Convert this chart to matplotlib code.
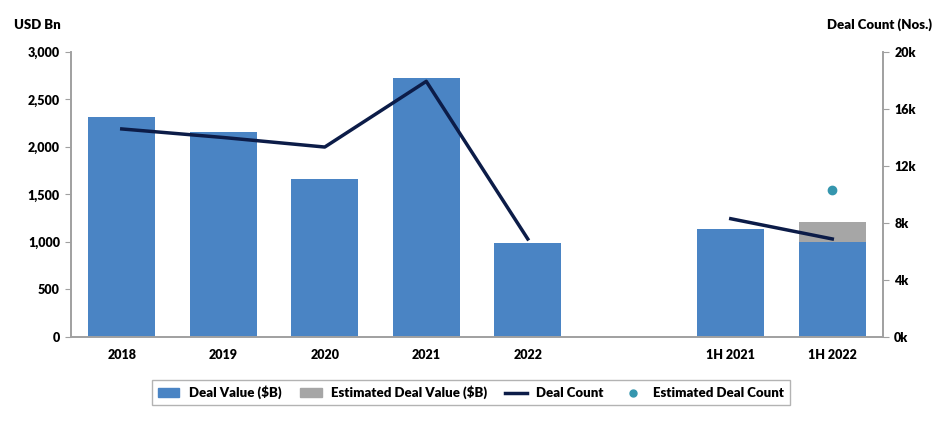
import numpy as np
import matplotlib
matplotlib.use("Agg")
import matplotlib.pyplot as plt
from matplotlib.patches import Patch
from matplotlib.lines import Line2D

plt.rcParams['font.family'] = ['Lato', 'DejaVu Sans']
plt.rcParams['font.weight'] = 'heavy'

# data
categories = ["2018", "2019", "2020", "2021", "2022", "", "1H 2021", "1H 2022"]
deal_value = [2311, 2158, 1666, 2722, 989, np.nan, 1137, 996]
est_extra = [0, 0, 0, 0, 0, 0, 0, 215]
deal_count_years = [14600, 14000, 13330, 17940, 6880]
deal_count_half = [8300, 6880]
est_deal_count = 10340

blue = "#4A84C4"
grey = "#A6A6A6"
navy = "#0C1C48"
teal = "#3596AE"
spine_c = "#A0A0A0"

fig = plt.figure(figsize=(9.43, 4.38), dpi=100)
ax = fig.add_axes([0.0753, 0.2306, 0.8611, 0.6507])
x = np.arange(len(categories))

vals = np.nan_to_num(np.array(deal_value, dtype=float))
ax.bar(x, vals, width=0.66, color=blue, zorder=2)
ax.bar(x, est_extra, width=0.66, bottom=vals, color=grey, zorder=2)

ax.set_xlim(-0.5, 7.5)
ax.set_ylim(0, 3000)
ax.set_yticks(np.arange(0, 3001, 500))
ax.set_yticklabels([f"{v:,}" for v in range(0, 3001, 500)])
ax.set_xticks([0, 1, 2, 3, 4, 6, 7])
ax.set_xticklabels([categories[i] for i in [0, 1, 2, 3, 4, 6, 7]])
ax.tick_params(axis='x', length=0, pad=9, labelsize=9)
ax.tick_params(axis='y', length=4, color=spine_c, labelsize=9, pad=4)

ax2 = ax.twinx()
ax2.set_ylim(0, 20000)
ax2.set_yticks(np.arange(0, 20001, 4000))
ax2.set_yticklabels([f"{v // 1000}k" for v in range(0, 20001, 4000)])
ax2.tick_params(axis='y', length=4, color=spine_c, labelsize=9, pad=4)

ax2.plot(x[:5], deal_count_years, color=navy, lw=2.5, zorder=3)
ax2.plot(x[6:], deal_count_half, color=navy, lw=2.5, zorder=3)
ax2.plot([x[7]], [est_deal_count], 'o', color=teal, ms=6, zorder=3)

for a in (ax, ax2):
    a.spines['top'].set_visible(False)
    for s in ('left', 'right', 'bottom'):
        a.spines[s].set_color(spine_c)
        a.spines[s].set_linewidth(1.2)

fig.text(0.015, 0.943, "USD Bn", fontsize=9.5, fontweight='heavy', va='center')
fig.text(0.988, 0.943, "Deal Count (Nos.)", fontsize=9.5, fontweight='heavy',
         va='center', ha='right')

handles = [Patch(color=blue, label="Deal Value ($B)"),
           Patch(color=grey, label="Estimated Deal Value ($B)"),
           Line2D([], [], color=navy, lw=2.5, label="Deal Count"),
           Line2D([], [], marker='o', color=teal, ls='', ms=5,
                  label="Estimated Deal Count")]
leg = fig.legend(handles=handles, loc='center', bbox_to_anchor=(0.4995, 0.104),
                 ncol=4, frameon=True, fancybox=False, fontsize=9.5,
                 handlelength=1.65, handleheight=0.65, columnspacing=1.4,
                 borderpad=0.4, handletextpad=0.7)
leg.get_frame().set_edgecolor(spine_c)
leg.get_frame().set_linewidth(1.0)

fig.savefig("out.png", dpi=100)
